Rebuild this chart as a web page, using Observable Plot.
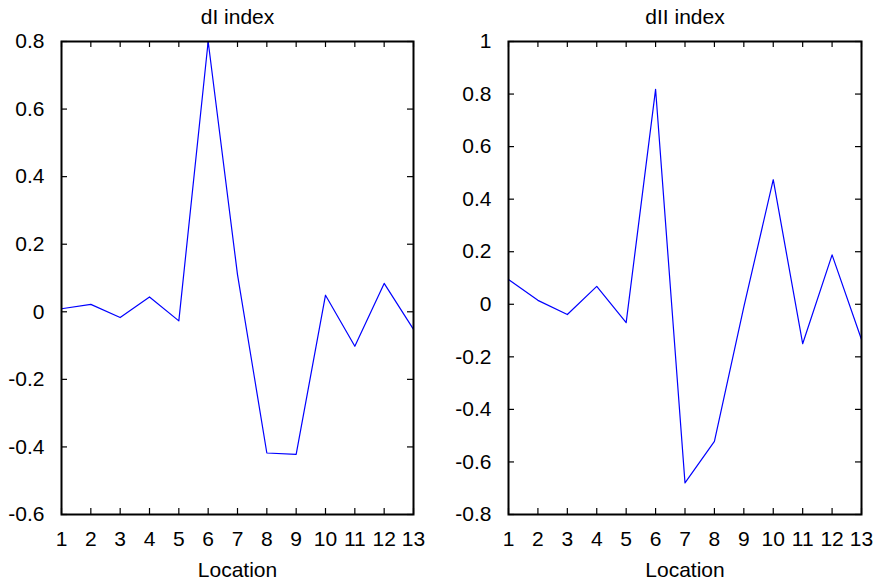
<!DOCTYPE html>
<html>
<head>
<meta charset="utf-8">
<script src="https://cdn.jsdelivr.net/npm/d3@7"></script>
<script src="https://cdn.jsdelivr.net/npm/@observablehq/plot@0.6"></script>
<style>
  body { margin: 0; background: #fff; }
  #charts { display: flex; width: 875px; height: 583px; }
  #charts svg { display: block; }
</style>
</head>
<body>
<div id="charts"></div>
<script>
// Sampling locations along the x axis
const locations = [1, 2, 3, 4, 5, 6, 7, 8, 9, 10, 11, 12, 13];

// dI index per location
const dIValues = [0.009, 0.022, -0.017, 0.044, -0.027, 0.80, 0.11, -0.418, -0.422, 0.049, -0.102, 0.084, -0.052];

// dII index per location
const dIIValues = [0.094, 0.015, -0.039, 0.068, -0.070, 0.818, -0.68, -0.522, -0.01, 0.474, -0.15, 0.188, -0.134];

// Tick values
const xTicks = [1, 2, 3, 4, 5, 6, 7, 8, 9, 10, 11, 12, 13];
const dITicks = [-0.6, -0.4, -0.2, 0, 0.2, 0.4, 0.6, 0.8];
const dIITicks = [-0.8, -0.6, -0.4, -0.2, 0, 0.2, 0.4, 0.6, 0.8, 1];

const FONT = "'Liberation Sans', Arial, Helvetica, sans-serif";
const HEIGHT = 583, MT = 41, MB = 69, TICK = 6;

function panel({title, values, yDomain, yTicks, width, marginLeft, marginRight}) {
  const fw = width - marginLeft - marginRight;
  const fh = HEIGHT - MT - MB;
  const rows = locations.map((d, i) => ({location: d, value: values[i]}));
  const fmt = d => String(d);
  return Plot.plot({
    width, height: HEIGHT,
    marginLeft, marginRight, marginTop: MT, marginBottom: MB,
    style: {fontFamily: FONT, fontSize: "21px", color: "#000", background: "#fff"},
    x: {domain: [1, 13]},
    y: {domain: yDomain},
    marks: [
      // inward ticks on all four sides
      Plot.tickY(yTicks, {insetRight: fw - TICK, stroke: "#000", strokeWidth: 1.2}),
      Plot.tickY(yTicks, {insetLeft: fw - TICK, stroke: "#000", strokeWidth: 1.2}),
      Plot.tickX(xTicks, {insetTop: fh - TICK, stroke: "#000", strokeWidth: 1.2}),
      Plot.tickX(xTicks, {insetBottom: fh - TICK, stroke: "#000", strokeWidth: 1.2}),
      Plot.line(rows, {x: "location", y: "value", stroke: "#0000ff", strokeWidth: 1.2}),
      Plot.frame({stroke: "#000", strokeWidth: 2}),
      Plot.axisY(yTicks, {tickSize: 0, tickPadding: 17, tickFormat: fmt, label: null}),
      Plot.axisX(xTicks, {tickSize: 0, tickPadding: 17, tickFormat: fmt, label: null}),
      Plot.text([title], {frameAnchor: "top", lineAnchor: "top", dy: -32}),
      Plot.text(["Location"], {frameAnchor: "bottom", lineAnchor: "top", dy: 48})
    ]
  });
}

const root = document.getElementById("charts");
root.append(panel({title: "dI index", values: dIValues, yDomain: [-0.6, 0.8], yTicks: dITicks,
                   width: 440, marginLeft: 61, marginRight: 27}));
root.append(panel({title: "dII index", values: dIIValues, yDomain: [-0.8, 1], yTicks: dIITicks,
                   width: 435, marginLeft: 68, marginRight: 14}));
</script>
</body>
</html>
